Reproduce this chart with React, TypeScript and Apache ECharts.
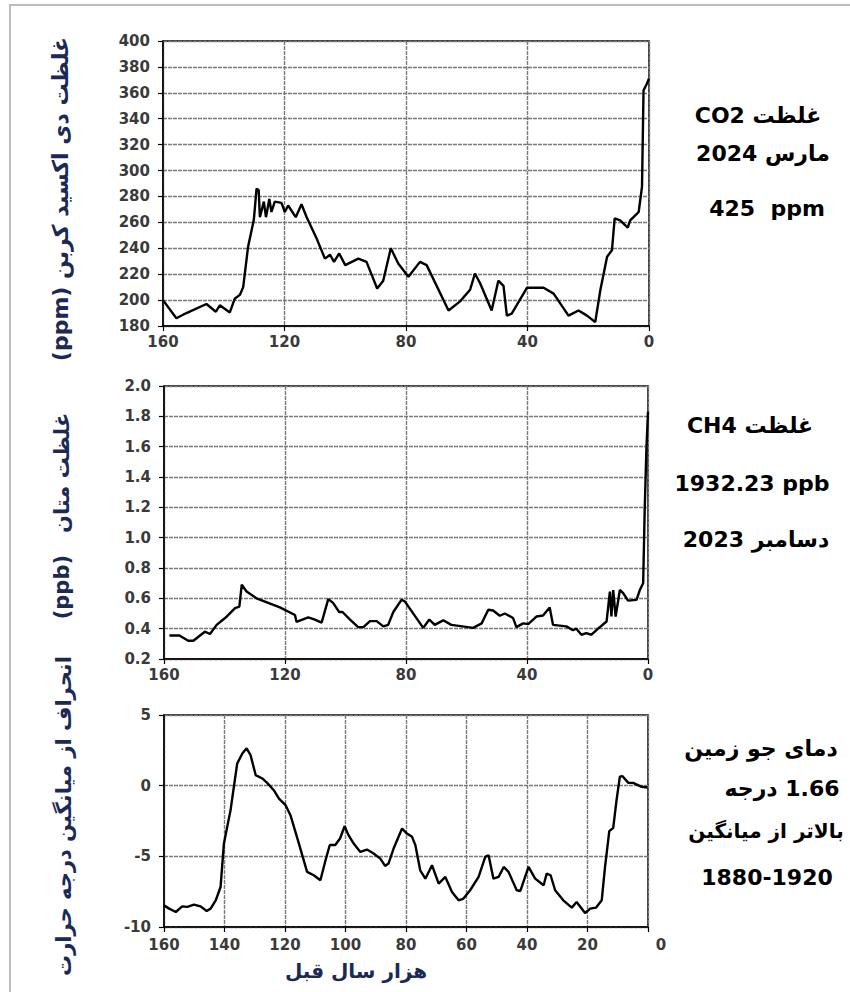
import React, { useEffect, useRef } from "react";
import * as echarts from "echarts";

// ---- data (age in thousand years before present, value) ----
const co2Data: [number, number][] = [
  [160, 200], [155.6, 186], [152.3, 190], [145.7, 197], [142.6, 191], [141.3, 196],
  [138, 190.5], [136.4, 201], [134.7, 204], [133.6, 210], [132, 241], [130.1, 262],
  [129.2, 286], [128.5, 285], [128.1, 264], [126.8, 276], [126.1, 264], [125, 278],
  [124.3, 268], [123.2, 276], [121, 275], [119.9, 268], [118.8, 273], [116.3, 264],
  [114.4, 274], [112.7, 264], [109.5, 248], [106.7, 232], [105, 235], [103.7, 229.5],
  [102, 236], [100, 227], [95.7, 232], [93, 229.5], [89.5, 209], [87.5, 215],
  [85, 240], [82.5, 228], [79.2, 218], [75.4, 229.5], [73.2, 227], [66, 192],
  [62.2, 199], [58.9, 208], [57.3, 220.5], [55.6, 213], [51.8, 192], [49.6, 215],
  [47.9, 211], [46.8, 188], [45.2, 189.5], [40.2, 209.5], [34.7, 209.5], [31.4, 205],
  [26.5, 188], [23.2, 192], [20.4, 188], [17.7, 183], [16, 208], [13.8, 233.5],
  [12.2, 238.5], [11.3, 263], [9.5, 261.5], [7, 256], [6.2, 261.5], [5.1, 264],
  [3.4, 268], [2.3, 287.5], [1.8, 362], [0.7, 367], [0, 371],
];

const ch4Data: [number, number][] = [
  [158.2, 0.355], [154.9, 0.355], [152, 0.32], [150.3, 0.32], [146.5, 0.38], [144.8, 0.365],
  [142.6, 0.425], [139.8, 0.47], [136.5, 0.535], [135.1, 0.545], [134.3, 0.69], [132.7, 0.645],
  [129.4, 0.6], [121.7, 0.54], [116.7, 0.49], [116.2, 0.445], [112.3, 0.475], [110.1, 0.46],
  [107.9, 0.44], [105.7, 0.595], [104.1, 0.57], [102.1, 0.51], [101, 0.51], [98.5, 0.46],
  [95.8, 0.41], [94.1, 0.41], [91.9, 0.45], [89.7, 0.45], [87.5, 0.415], [85.9, 0.425],
  [84.2, 0.51], [81.5, 0.59], [80.4, 0.58], [74.3, 0.405], [72.3, 0.46], [70.5, 0.425],
  [67.7, 0.455], [65, 0.425], [57.8, 0.405], [55, 0.435], [52.8, 0.525], [51.2, 0.52],
  [49, 0.485], [47.3, 0.5], [44.6, 0.47], [43.5, 0.41], [41.3, 0.435], [39.6, 0.43],
  [36.9, 0.48], [34.7, 0.487], [32.5, 0.54], [31.4, 0.425], [27, 0.415], [24.8, 0.39],
  [23.7, 0.4], [22, 0.36], [20.4, 0.37], [18.7, 0.36], [16.5, 0.4], [13.7, 0.447],
  [12.6, 0.645], [12.1, 0.48], [11.5, 0.655], [10.7, 0.48], [9.3, 0.655], [8.2, 0.635],
  [6.6, 0.585], [3.8, 0.59], [2.7, 0.655], [1.6, 0.7], [1.1, 1.18], [0.5, 1.6], [0, 1.83],
];

const tempData: [number, number][] = [
  [160, -8.47], [158.3, -8.7], [156.1, -8.94], [154, -8.54], [152.3, -8.58], [150.1, -8.42],
  [147.9, -8.54], [145.9, -8.87], [144.6, -8.7], [142.9, -8.11], [141.3, -7.17], [140.2, -4.1],
  [138, -1.73], [135.8, 1.57], [134.1, 2.28], [132.7, 2.64], [131.4, 2.17], [129.7, 0.75],
  [127.5, 0.51], [125.9, 0.2], [123.7, -0.32], [122, -0.91], [119.8, -1.38], [118.2, -2.09],
  [115.4, -4.1], [112.7, -6.1], [110.5, -6.34], [108.3, -6.69], [106.6, -5.28], [105.2, -4.2],
  [103.4, -4.2], [101.8, -3.74], [100.3, -2.87], [99, -3.5], [97.3, -4.1], [95.1, -4.69],
  [92.9, -4.52], [90.7, -4.8], [88.5, -5.16], [86.9, -5.68], [85.8, -5.51], [84.1, -4.45],
  [81.3, -3.03], [79.7, -3.39], [78, -3.62], [76.9, -4.21], [75.3, -5.99], [73.6, -6.58],
  [71.4, -5.63], [69.2, -6.93], [67, -6.46], [64.8, -7.52], [62.6, -8.11], [61, -7.99],
  [58.8, -7.4], [56, -6.46], [53.8, -5.04], [52.7, -4.92], [51.1, -6.58], [49.4, -6.46],
  [47.7, -5.75], [46.1, -6.1], [43.4, -7.4], [42.2, -7.45], [39.5, -5.75], [37.3, -6.58],
  [34.5, -7.05], [33.5, -6.22], [32.2, -6.34], [30.7, -7.4], [28, -8.11], [25.2, -8.63],
  [23.6, -8.23], [20.8, -9.01], [19.1, -8.7], [17.2, -8.63], [15.3, -8.11], [14.2, -5.75],
  [12.8, -3.22], [11.5, -2.98], [10.4, -1.02], [9.3, 0.63], [8.5, 0.68], [6.5, 0.2],
  [4.9, 0.2], [2.1, -0.08], [0.2, -0.13],
];

// ---- texts ----
const rtl = (s: string) => "\u202B" + s + "\u202C";
const co2AxisName = "غلظت دی اکسید کربن (ppm)";
const ch4AxisName = "غلظت متان   (ppb)";
const tempAxisName = "انحراف از میانگین درجه حرارت";
const xAxisName = "هزار سال قبل";
const co2Notes = ["غلظت CO2", "مارس 2024", "425  ppm"];
const ch4Notes = ["غلظت CH4", "1932.23 ppb", "دسامبر 2023"];
const tempNotes = ["دمای جو زمین", "1.66 درجه", "بالاتر از میانگین", "1880-1920"];

const FONT = '"DejaVu Sans", "Noto Sans", sans-serif';
const NAVY = "#1b2a55";

export default function App() {
  const ref = useRef<HTMLDivElement>(null);
  useEffect(() => {
    document.body.style.margin = "0";
    if (!ref.current) return;
    const chart = echarts.init(ref.current, undefined, { renderer: "svg" });

    const gridDefs = [
      { left: 163, top: 41, width: 486, height: 285 },
      { left: 164, top: 386, width: 484, height: 273 },
      { left: 164, top: 715, width: 484, height: 212 },
    ];

    const labelStyle = {
      fontFamily: FONT,
      fontWeight: "bold" as const,
      fontSize: 15,
      color: "#3a3a3a",
    };
    const splitLine = {
      show: true,
      lineStyle: { color: "#7a7a7a", width: 1.4, type: [4, 1] as any },
    };
    const axisLine = { show: true, onZero: false, lineStyle: { color: "#000", width: 1.5 } };
    const axisTick = { show: true, length: 5, lineStyle: { color: "#000", width: 1.2 } };

    const xAxes = [0, 1, 2].map((i) => ({
      type: "value",
      gridIndex: i,
      min: 0,
      max: 160,
      interval: i === 2 ? 20 : 40,
      inverse: true,
      axisLine,
      axisTick,
      splitLine,
      axisLabel: {
        ...labelStyle,
        margin: i === 2 ? 10 : 8,
        formatter: (v: number) => (i === 2 && v === 0 ? "{z|0}" : String(v)),
        rich: {
          z: { ...labelStyle, padding: [0, 0, 0, 26] },
        },
      },
    }));

    const yAxes = [
      { min: 180, max: 400, interval: 20, fmt: (v: number) => String(v) },
      { min: 0.2, max: 2.0, interval: 0.2, fmt: (v: number) => v.toFixed(1) },
      { min: -10, max: 5, interval: 5, fmt: (v: number) => String(v) },
    ].map((a, i) => ({
      type: "value",
      gridIndex: i,
      min: a.min,
      max: a.max,
      interval: a.interval,
      axisLine,
      axisTick,
      splitLine,
      axisLabel: { ...labelStyle, margin: 13, formatter: a.fmt },
    }));

    const seriesData = [co2Data, ch4Data, tempData];
    const series = seriesData.map((d, i) => ({
      type: "line",
      xAxisIndex: i,
      yAxisIndex: i,
      data: d,
      showSymbol: false,
      symbol: "none",
      lineStyle: { color: "#000", width: 2.4 },
      z: 5,
    }));

    const txt = (
      text: string,
      x: number,
      y: number,
      size: number,
      opts: any = {}
    ) => ({
      type: "text",
      x,
      y,
      rotation: opts.rotation || 0,
      z: 10,
      style: {
        text,
        fill: opts.fill || "#000",
        fontFamily: FONT,
        fontSize: size,
        fontWeight: opts.weight || "bold",
        textAlign: "center",
        textVerticalAlign: "middle",
        align: "center",
        verticalAlign: "middle",
      },
    });

    const graphics: any[] = [
      {
        type: "rect",
        shape: { x: 10, y: 5, width: 900, height: 1100 },
        style: { fill: "none", stroke: "#bdbdbd", lineWidth: 2 },
        z: 0,
      },
      txt(rtl(co2AxisName), 60, 199, 22, { rotation: Math.PI / 2, fill: NAVY }),
      txt(rtl(ch4AxisName), 62, 516, 21, { rotation: Math.PI / 2, fill: NAVY }),
      txt(rtl(tempAxisName), 64, 816, 21, { rotation: Math.PI / 2, fill: NAVY }),
      txt(rtl(xAxisName), 356, 971, 20, { fill: NAVY }),
      txt(rtl(co2Notes[0]), 758, 115, 22),
      txt(rtl(co2Notes[1]), 763, 153, 22),
      txt(co2Notes[2], 767, 208, 22),
      txt(rtl(ch4Notes[0]), 750, 425, 22),
      txt(ch4Notes[1], 752, 483, 22),
      txt(rtl(ch4Notes[2]), 756, 539, 22),
      txt(rtl(tempNotes[0]), 761, 748, 22),
      txt(rtl(tempNotes[1]), 782, 788, 22),
      txt(rtl(tempNotes[2]), 766, 831, 20),
      txt(tempNotes[3], 767, 877, 22),
    ];

    chart.setOption({
      animation: false,
      backgroundColor: "#fff",
      grid: gridDefs.map((g) => ({
        ...g,
        show: true,
        borderColor: "#000",
        borderWidth: 1.5,
        backgroundColor: "transparent",
      })),
      xAxis: xAxes,
      yAxis: yAxes,
      series,
      graphic: graphics,
    });

    return () => chart.dispose();
  }, []);

  return <div ref={ref} style={{ width: 850, height: 992 }} />;
}
